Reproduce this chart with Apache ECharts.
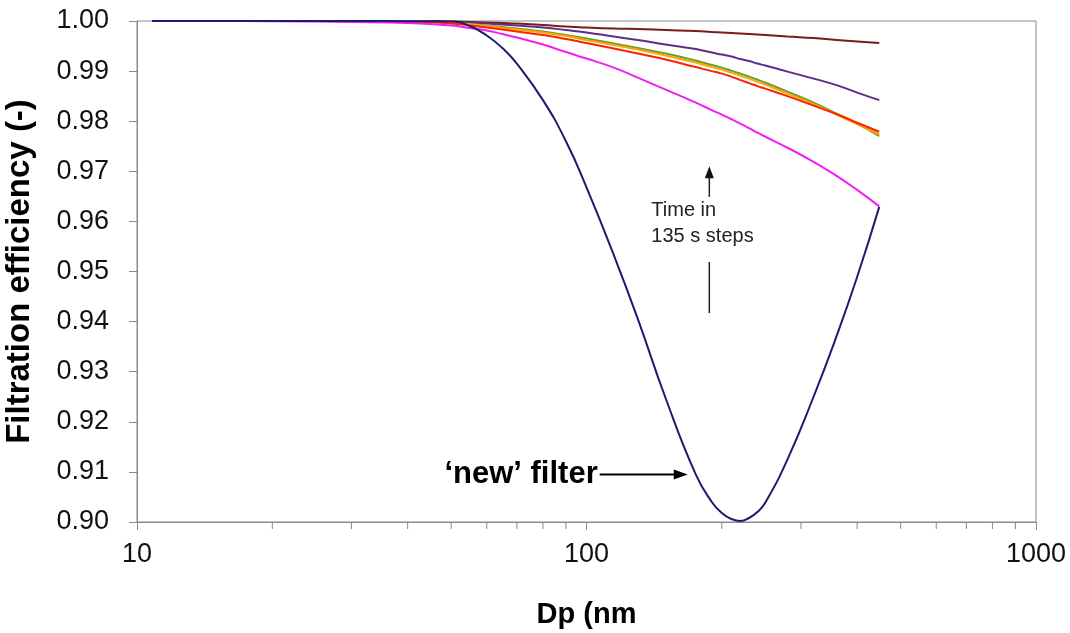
<!DOCTYPE html>
<html>
<head>
<meta charset="utf-8">
<script src="https://cdn.jsdelivr.net/npm/echarts@6/dist/echarts.min.js"></script>
<style>
  html, body { margin: 0; padding: 0; background: #fff; }
  #main { width: 1070px; height: 633px; }
</style>
</head>
<body>
<div id="main"></div>
<script>
// particle diameter (nm), shared by every curve
var dp = [10.8, 15, 20, 30, 40, 50, 55, 60, 65, 70, 80, 90, 100, 115, 130, 150, 175, 190, 200, 210, 220, 230, 240, 250, 280, 320, 360, 400, 448];

// filtration efficiency, one curve per 135 s step ("new" filter first)
var effNew     = [1.0000, 1.0000, 1.0000, 1.0000, 0.99995, 0.9999, 0.9990, 0.9971, 0.9946, 0.9915, 0.9842, 0.9760, 0.9668, 0.9533, 0.9406, 0.9247, 0.9095, 0.9040, 0.9018, 0.9006, 0.9002, 0.9008, 0.9020, 0.9039, 0.9125, 0.9250, 0.9371, 0.9489, 0.9629];
var effMagenta = [1.0000, 1.0000, 0.99995, 0.9998, 0.9996, 0.9991, 0.9986, 0.9981, 0.9974, 0.9967, 0.9953, 0.9938, 0.9925, 0.9907, 0.9887, 0.9863, 0.9837, 0.9822, 0.9813, 0.9804, 0.9795, 0.9786, 0.9777, 0.9769, 0.9747, 0.9719, 0.9691, 0.9663, 0.9630];
var effRed     = [1.0000, 1.0000, 1.0000, 1.0000, 0.99995, 0.9995, 0.9991, 0.9987, 0.9983, 0.9979, 0.9972, 0.9964, 0.9956, 0.9945, 0.9935, 0.9923, 0.9908, 0.9900, 0.9895, 0.9889, 0.9882, 0.9876, 0.9870, 0.9865, 0.9850, 0.9831, 0.9814, 0.9797, 0.9779];
var effOrange  = [1.0000, 1.0000, 1.0000, 1.0000, 1.0000, 0.9996, 0.9993, 0.9990, 0.9986, 0.9983, 0.9977, 0.9970, 0.9962, 0.9952, 0.9943, 0.9931, 0.9917, 0.9908, 0.9903, 0.9897, 0.9891, 0.9885, 0.9879, 0.9873, 0.9855, 0.9834, 0.9813, 0.9794, 0.9774];
var effGreen   = [1.0000, 1.0000, 1.0000, 1.0000, 1.0000, 0.9996, 0.9994, 0.9991, 0.9988, 0.9985, 0.9979, 0.9972, 0.9965, 0.9955, 0.9946, 0.9935, 0.9921, 0.9912, 0.9907, 0.9901, 0.9895, 0.9889, 0.9883, 0.9877, 0.9859, 0.9837, 0.9815, 0.9795, 0.9770];
var effPurple  = [1.0000, 1.0000, 1.0000, 1.0000, 1.0000, 0.9998, 0.9997, 0.9995, 0.9993, 0.9991, 0.9987, 0.9982, 0.9977, 0.9969, 0.9962, 0.9953, 0.9944, 0.9937, 0.9933, 0.9929, 0.9924, 0.9920, 0.9915, 0.9911, 0.9899, 0.9885, 0.9872, 0.9857, 0.9842];
var effBrown   = [1.0000, 1.0000, 1.0000, 1.0000, 1.0000, 0.9999, 0.9998, 0.9997, 0.9996, 0.9995, 0.9992, 0.9989, 0.9987, 0.9985, 0.9984, 0.9982, 0.9980, 0.9978, 0.9977, 0.9976, 0.9975, 0.9974, 0.9973, 0.9972, 0.9969, 0.9966, 0.9962, 0.9959, 0.9956];

// log axis minor ticks (2..9 in each decade)
var minorTicks = [20, 30, 40, 50, 60, 70, 80, 90, 200, 300, 400, 500, 600, 700, 800, 900];

var font = '"Liberation Sans", Arial, Helvetica, sans-serif';

function pairs(ys) {
  return dp.map(function (x, i) { return [x, ys[i]]; });
}

function curve(name, color, ys) {
  return {
    name: name,
    type: 'line',
    data: pairs(ys),
    showSymbol: false,
    smooth: 0.5,
    lineStyle: { color: color, width: 2 },
    silent: true
  };
}

var chart = echarts.init(document.getElementById('main'));

var option = {
  animation: false,
  backgroundColor: '#fff',
  grid: {
    left: 137, right: 34, top: 21, bottom: 111,
    outerBoundsMode: 'none',
    containLabel: false,
    show: true, borderColor: '#8a8a8a', borderWidth: 1
  },
  xAxis: {
    type: 'log',
    logBase: 10,
    min: 10,
    max: 1000,
    name: 'Dp (nm',
    nameLocation: 'middle',
    nameGap: 78,
    nameTextStyle: { fontFamily: font, fontSize: 29, fontWeight: 'bold', color: '#000' },
    axisLine: { lineStyle: { color: '#8a8a8a', width: 1 } },
    axisTick: { show: true, inside: false, length: 8, lineStyle: { color: '#8a8a8a' } },
    axisLabel: {
      fontFamily: font, fontSize: 27, color: '#111', margin: 19,
      formatter: function (v) { return String(Math.round(v)); }
    },
    splitLine: { show: false },
    minorTick: { show: false }
  },
  yAxis: {
    type: 'value',
    min: 0.9,
    max: 1.0,
    interval: 0.01,
    name: 'Filtration efficiency (-)',
    nameLocation: 'middle',
    nameGap: 101,
    nameTextStyle: { fontFamily: font, fontSize: 33, fontWeight: 'bold', color: '#000' },
    axisLine: { show: true, lineStyle: { color: '#8a8a8a', width: 1 } },
    axisTick: { show: true, inside: false, length: 8, lineStyle: { color: '#8a8a8a' } },
    axisLabel: {
      fontFamily: font, fontSize: 27, color: '#111', margin: 28,
      formatter: function (v) { return v.toFixed(2); }
    },
    splitLine: { show: false }
  },
  series: [
    curve('t6', '#7a1c1c', effBrown),
    curve('t5', '#5e2d86', effPurple),
    curve('t4', '#6f9a2a', effGreen),
    curve('t3', '#f5a800', effOrange),
    curve('t2', '#ff2200', effRed),
    curve('t1', '#f020f0', effMagenta),
    curve('new', '#1b1b72', effNew),
    {
      name: 'minor ticks',
      type: 'custom',
      clip: false,
      silent: true,
      data: minorTicks.map(function (v) { return [v, 0.9]; }),
      renderItem: function (params, api) {
        var p = api.coord([api.value(0), api.value(1)]);
        return {
          type: 'line',
          shape: { x1: p[0], y1: p[1], x2: p[0], y2: p[1] + 7 },
          style: { stroke: '#8a8a8a', lineWidth: 1 }
        };
      }
    }
  ]
};

chart.setOption(option);

// annotations, anchored in data coordinates
var newArrow = { from: [107, 0.9095], to: [168, 0.9095] };
var timeArrowUp = { from: [187.6, 0.9649], to: [187.6, 0.9710] };
var timeArrowLow = { from: [187.6, 0.9519], to: [187.6, 0.9417] };
var timeText = { at: [139.4, 0.9595] };

function px(c) { return chart.convertToPixel({ seriesIndex: 0 }, c); }

var a0 = px(newArrow.from), a1 = px(newArrow.to);
var u0 = px(timeArrowUp.from), u1 = px(timeArrowUp.to);
var l0 = px(timeArrowLow.from), l1 = px(timeArrowLow.to);
var tt = px(timeText.at);

chart.setOption({
  graphic: [
    {
      type: 'text', x: a0[0] - 2, y: a0[1],
      style: {
        text: '\u2018new\u2019 filter', fontFamily: font, fontSize: 31, fontWeight: 'bold',
        fill: '#000', align: 'right', verticalAlign: 'middle'
      }
    },
    {
      type: 'line', shape: { x1: a0[0], y1: a0[1], x2: a1[0] - 10, y2: a1[1] },
      style: { stroke: '#000', lineWidth: 2 }
    },
    {
      type: 'polygon',
      shape: { points: [[a1[0], a1[1]], [a1[0] - 14, a1[1] - 5], [a1[0] - 14, a1[1] + 5]] },
      style: { fill: '#000' }
    },
    {
      type: 'line', shape: { x1: u0[0], y1: u0[1], x2: u1[0], y2: u1[1] + 8 },
      style: { stroke: '#222', lineWidth: 1.5 }
    },
    {
      type: 'polygon',
      shape: { points: [[u1[0], u1[1]], [u1[0] - 4.5, u1[1] + 12], [u1[0] + 4.5, u1[1] + 12]] },
      style: { fill: '#111' }
    },
    {
      type: 'line', shape: { x1: l0[0], y1: l0[1], x2: l1[0], y2: l1[1] },
      style: { stroke: '#222', lineWidth: 1.5 }
    },
    {
      type: 'text', x: tt[0], y: tt[1],
      style: {
        text: 'Time in\n135 s steps', fontFamily: font, fontSize: 20, lineHeight: 26,
        fill: '#222', align: 'left', verticalAlign: 'middle'
      }
    }
  ]
});
</script>
</body>
</html>
